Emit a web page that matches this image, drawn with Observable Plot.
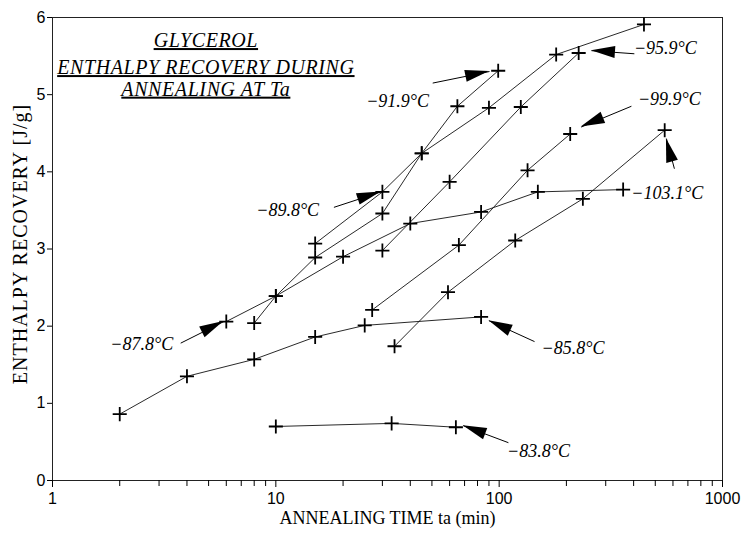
<!DOCTYPE html>
<html><head><meta charset="utf-8">
<script src="https://cdn.jsdelivr.net/npm/d3@7"></script>
<script src="https://cdn.jsdelivr.net/npm/@observablehq/plot@0.6"></script>
<style>
body{margin:0;background:#fff;}
</style></head><body><div id="chart"></div>
<script>
// --- data ---
const seriesNames = ["−83.8°C","−85.8°C","−87.8°C","−89.8°C","−91.9°C","−95.9°C","−99.9°C","−103.1°C"];
const annealTimes = [
  [10, 33, 64],
  [2, 4, 8, 15, 25, 83],
  [6, 10, 20, 40, 83, 149, 359],
  [15, 30, 45, 90, 180, 445],
  [8, 10, 15, 30, 45, 65, 99],
  [30, 60, 125, 227],
  [27, 66, 134, 208],
  [34, 59, 118, 237, 551]
];
const recovery = [
  [0.70, 0.74, 0.69],
  [0.86, 1.35, 1.57, 1.86, 2.01, 2.12],
  [2.06, 2.39, 2.90, 3.33, 3.48, 3.74, 3.77],
  [3.07, 3.74, 4.24, 4.83, 5.52, 5.91],
  [2.04, 2.39, 2.89, 3.46, 4.24, 4.85, 5.31],
  [2.98, 3.87, 4.84, 5.54],
  [2.21, 3.05, 4.02, 4.49],
  [1.74, 2.44, 3.11, 3.65, 4.54]
];
// annotation anchors (data units): label centre, arrow tail, arrow tip
const labelX = [150, 214, 2.51, 11.3, 35.1, 555, 578, 566];
const labelY = [0.38, 1.71, 1.76, 3.50, 4.92, 5.60, 4.94, 3.72];
const tailX = [110, 144, 3.75, 18.2, 50.4, 403, 391, 609];
const tailY = [0.49, 1.80, 1.78, 3.54, 5.15, 5.53, 4.85, 4.04];
const tipX = [69, 90, 5.85, 29.6, 90.5, 259, 233, 561];
const tipY = [0.71, 2.07, 2.06, 3.74, 5.30, 5.57, 4.58, 4.43];
const titleLines = ["GLYCEROL", "ENTHALPY RECOVERY DURING", "ANNEALING AT Ta"];
const titleX = [4.86, 4.86, 4.86];
const titleY = [5.70, 5.35, 5.07];
const xMajorTicks = [1, 10, 100, 1000];
const xMinorTicks = [2,3,4,5,6,7,8,9,20,30,40,50,60,70,80,90,200,300,400,500,600,700,800,900];
const yTicks = [0, 1, 2, 3, 4, 5, 6];
const xTitle = "ANNEALING TIME ta (min)";
const yTitle = "ENTHALPY RECOVERY [J/g]";

// --- tables built from the arrays ---
const points = seriesNames.flatMap((s, i) =>
  annealTimes[i].map((t, j) => ({series: s, t, e: recovery[i][j]})));
const notes = seriesNames.map((s, i) => ({
  name: s, lx: labelX[i], ly: labelY[i], tx: tailX[i], ty: tailY[i], hx: tipX[i], hy: tipY[i]
}));
const titles = titleLines.map((s, i) => ({s, x: titleX[i], y: titleY[i]}));

const serif = "'Liberation Serif', 'Times New Roman', serif";

const plot = Plot.plot({
  width: 745, height: 534,
  marginLeft: 52, marginRight: 23, marginTop: 17, marginBottom: 54,
  style: {fontFamily: "'Liberation Sans', Arial, sans-serif", fontSize: "16px", color: "#000", background: "#fff"},
  x: {type: "log", domain: [1, 1000]},
  y: {domain: [0, 6]},
  marks: [
    Plot.frame({stroke: "#222", strokeWidth: 1}),
    Plot.axisX({ticks: xMajorTicks, tickFormat: d => String(d), tickSize: 7, tickPadding: 5, fontSize: 16, label: null}),
    Plot.axisX({ticks: xMinorTicks, tickFormat: () => "", tickSize: 6, label: null}),
    Plot.axisY({ticks: yTicks, tickFormat: d => String(d), tickSize: 5, tickPadding: 2, fontSize: 16, label: null}),
    Plot.line(points, {x: "t", y: "e", z: "series", stroke: "#111", strokeWidth: 0.9}),
    Plot.dot(points, {x: "t", y: "e", symbol: "plus", r: 4.6, stroke: "#000", strokeWidth: 1.8}),
    Plot.link(notes, {x1: "tx", y1: "ty", x2: "hx", y2: "hy", stroke: "#000", strokeWidth: 1}),
    Plot.text(notes, {x: "lx", y: "ly", text: "name", fontFamily: serif, fontStyle: "italic", fontSize: 18, fill: "#000"}),
    Plot.text(titles, {x: "x", y: "y", text: "s", fontFamily: serif, fontStyle: "italic", fontSize: 20, fill: "#000"}),
    Plot.text([xTitle], {frameAnchor: "bottom", textAnchor: "middle", dy: 43, fontFamily: serif, fontSize: 18, fill: "#000"}),
    Plot.text([yTitle], {frameAnchor: "left", textAnchor: "middle", rotate: -90, dx: -32, dy: -5, fontFamily: serif, fontSize: 20, fill: "#000"})
  ]
});

// filled arrow heads, placed with the plot's own scales
const sx = plot.scale("x"), sy = plot.scale("y");
const svg = d3.select(plot.tagName === "svg" ? plot : plot.querySelector("svg"));
const headLen = 24, headHalf = 6;
const g = svg.append("g").attr("fill", "#000");
notes.forEach(n => {
  const x0 = sx.apply(n.tx), y0 = sy.apply(n.ty), x1 = sx.apply(n.hx), y1 = sy.apply(n.hy);
  const dx = x1 - x0, dy = y1 - y0, L = Math.hypot(dx, dy);
  const ux = dx / L, uy = dy / L, bx = x1 - ux * headLen, by = y1 - uy * headLen;
  g.append("path").attr("d",
    `M${x1},${y1}L${bx - uy * headHalf},${by + ux * headHalf}L${bx + uy * headHalf},${by - ux * headHalf}Z`);
});
svg.selectAll("text").each(function() {
  const t = this.textContent;
  if (titleLines.includes(t)) { this.style.textDecoration = "underline"; this.style.letterSpacing = "0.6px"; }
  if (t === yTitle) this.style.letterSpacing = "1px";
});
document.getElementById("chart").appendChild(plot);
</script>
</body></html>
